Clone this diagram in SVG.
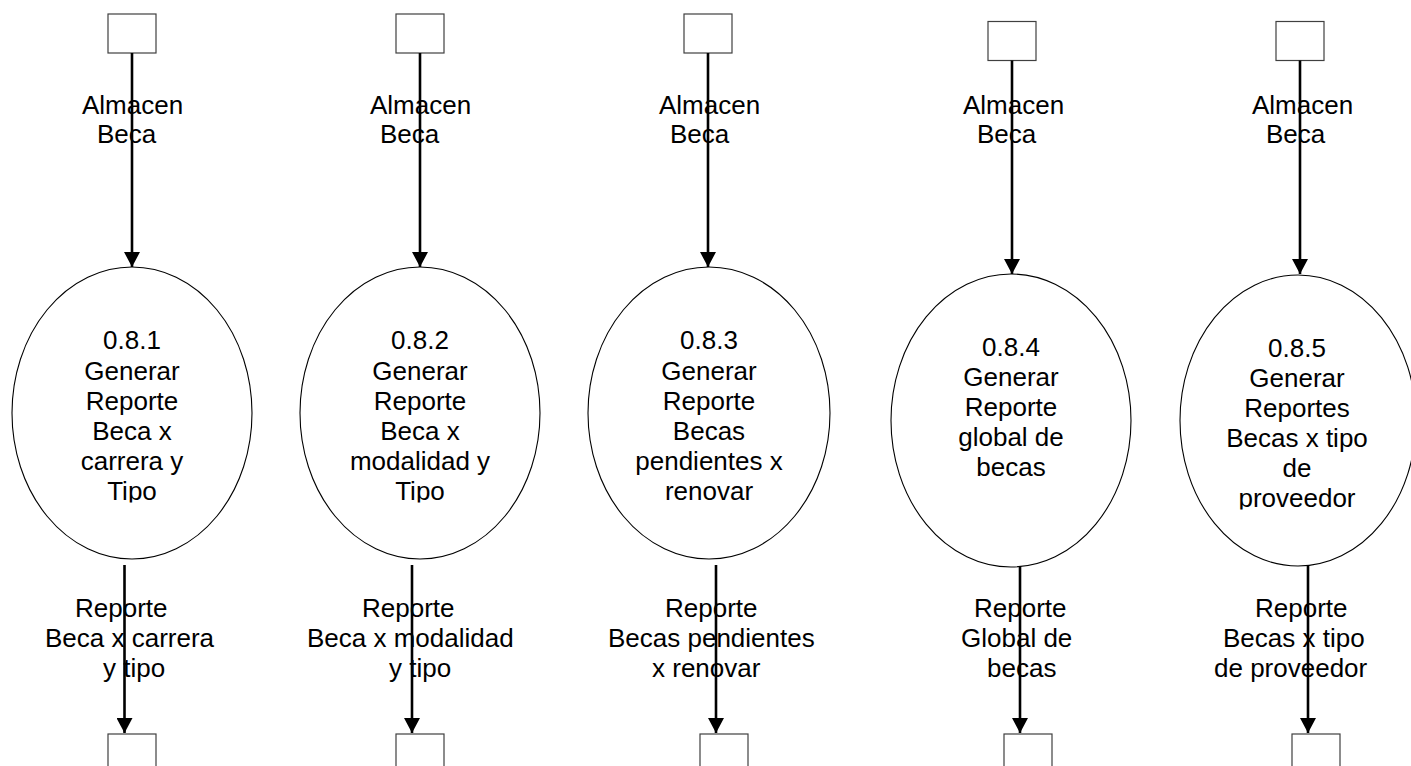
<svg xmlns="http://www.w3.org/2000/svg" width="1411" height="766" viewBox="0 0 1411 766">
<style>
text{font-family:"Liberation Sans",Arial,sans-serif;font-size:26px;fill:#000}
.c{text-anchor:middle}
.box{fill:#fff;stroke:#404040;stroke-width:1.2}
.proc{fill:#fff;stroke:#000;stroke-width:1.1}
.flow{stroke:#000;stroke-width:2.6;fill:none;marker-end:url(#ah)}
</style>
<defs>
<marker id="ah" markerUnits="userSpaceOnUse" markerWidth="16" markerHeight="16" refX="15" refY="8" orient="auto">
<path d="M0,0 L15,8 L0,16 z" fill="#000"/>
</marker>
<clipPath id="clipA"><rect x="0" y="250" width="1411" height="252.5"/></clipPath>
<clipPath id="clipB"><rect x="0" y="250" width="1411" height="259.5"/></clipPath>
</defs>
<rect width="1411" height="766" fill="#fff"/>

<g id="store-top-1"><rect class="box" x="108" y="14" width="48" height="39"/></g>
<g id="store-top-2"><rect class="box" x="396" y="14" width="48" height="39"/></g>
<g id="store-top-3"><rect class="box" x="684" y="14" width="48" height="39"/></g>
<g id="store-top-4"><rect class="box" x="988" y="21.5" width="48" height="39"/></g>
<g id="store-top-5"><rect class="box" x="1276" y="21.5" width="48" height="39"/></g>

<g id="store-bot-1"><rect class="box" x="108" y="734" width="48" height="40"/></g>
<g id="store-bot-2"><rect class="box" x="396" y="734" width="48" height="40"/></g>
<g id="store-bot-3"><rect class="box" x="700" y="734" width="48" height="40"/></g>
<g id="store-bot-4"><rect class="box" x="1004" y="734" width="48" height="40"/></g>
<g id="store-bot-5"><rect class="box" x="1292" y="734" width="48" height="40"/></g>

<g id="proc-1">
<ellipse class="proc" cx="132" cy="413" rx="120" ry="146"/>
<text class="c" clip-path="url(#clipA)"><tspan x="132" y="349">0.8.1</tspan><tspan x="132" y="380">Generar</tspan><tspan x="132" y="410">Reporte</tspan><tspan x="132" y="440">Beca x</tspan><tspan x="132" y="470">carrera y</tspan><tspan x="132" y="500">Tipo</tspan></text>
</g>
<g id="proc-2">
<ellipse class="proc" cx="420" cy="413" rx="120" ry="146"/>
<text class="c" clip-path="url(#clipA)"><tspan x="420" y="349">0.8.2</tspan><tspan x="420" y="380">Generar</tspan><tspan x="420" y="410">Reporte</tspan><tspan x="420" y="440">Beca x</tspan><tspan x="420" y="470">modalidad y</tspan><tspan x="420" y="500">Tipo</tspan></text>
</g>
<g id="proc-3">
<ellipse class="proc" cx="709" cy="413" rx="121" ry="146"/>
<text class="c" clip-path="url(#clipA)"><tspan x="709" y="349">0.8.3</tspan><tspan x="709" y="380">Generar</tspan><tspan x="709" y="410">Reporte</tspan><tspan x="709" y="440">Becas</tspan><tspan x="709" y="470">pendientes x</tspan><tspan x="709" y="500">renovar</tspan></text>
</g>
<g id="proc-4">
<ellipse class="proc" cx="1011" cy="420.5" rx="120" ry="146.5"/>
<text class="c" clip-path="url(#clipB)"><tspan x="1011" y="356">0.8.4</tspan><tspan x="1011" y="386">Generar</tspan><tspan x="1011" y="416">Reporte</tspan><tspan x="1011" y="446">global de</tspan><tspan x="1011" y="476">becas</tspan></text>
</g>
<g id="proc-5">
<ellipse class="proc" cx="1298" cy="420.5" rx="118" ry="145.5"/>
<text class="c" clip-path="url(#clipB)"><tspan x="1297" y="357">0.8.5</tspan><tspan x="1297" y="387">Generar</tspan><tspan x="1297" y="417">Reportes</tspan><tspan x="1297" y="447">Becas x tipo</tspan><tspan x="1297" y="477">de</tspan><tspan x="1297" y="507">proveedor</tspan></text>
</g>

<g id="connectors">
<line class="flow" x1="132" y1="53" x2="132" y2="267"/>
<line class="flow" x1="420" y1="53" x2="420" y2="267"/>
<line class="flow" x1="708" y1="53" x2="708" y2="267"/>
<line class="flow" x1="1012" y1="60.5" x2="1012" y2="274"/>
<line class="flow" x1="1300" y1="60.5" x2="1300" y2="274"/>
<line class="flow" x1="124.5" y1="565" x2="124.5" y2="733"/>
<line class="flow" x1="412" y1="565" x2="412" y2="733"/>
<line class="flow" x1="716" y1="565" x2="716" y2="733"/>
<line class="flow" x1="1020" y1="566" x2="1020" y2="733"/>
<line class="flow" x1="1308" y1="566" x2="1308" y2="733"/>

<text x="82" y="114">Almacen</text><text x="97" y="143">Beca</text>
<text x="370" y="114">Almacen</text><text x="380" y="143">Beca</text>
<text x="659" y="114">Almacen</text><text x="670" y="143">Beca</text>
<text x="963" y="114">Almacen</text><text x="977" y="143">Beca</text>
<text x="1252" y="114">Almacen</text><text x="1266" y="143">Beca</text>

<text x="75" y="617">Reporte</text><text x="45" y="647">Beca x carrera</text><text x="103" y="677">y tipo</text>
<text x="362" y="617">Reporte</text><text x="307" y="647">Beca x modalidad</text><text x="389" y="677">y tipo</text>
<text x="665" y="617">Reporte</text><text x="608" y="647">Becas pendientes</text><text x="652" y="677">x renovar</text>
<text x="974" y="617">Reporte</text><text x="961" y="647">Global de</text><text x="987" y="677">becas</text>
<text x="1255" y="617">Reporte</text><text x="1223" y="647">Becas x tipo</text><text x="1214" y="677">de proveedor</text>
</g>
</svg>
